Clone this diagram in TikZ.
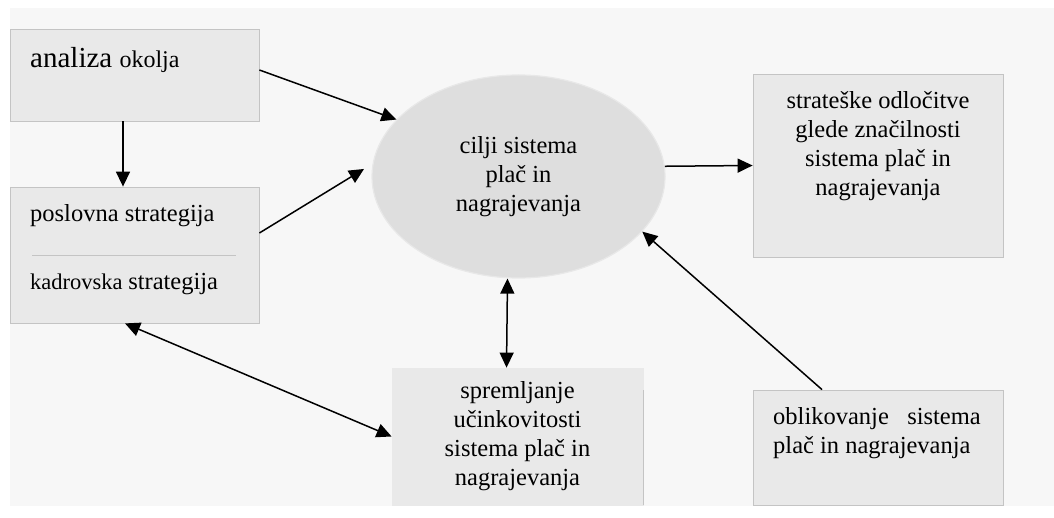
\documentclass[tikz,border=0pt]{standalone}
\usepackage{fontspec}
\setmainfont{Liberation Serif}
\usetikzlibrary{arrows.meta,shapes.geometric}
\definecolor{bgc}{HTML}{F7F7F7}
\definecolor{boxfill}{HTML}{E9E9E9}
\definecolor{boxline}{HTML}{C4C4C4}
\definecolor{ellfill}{HTML}{DEDEDE}
\definecolor{ellline}{HTML}{E8E8E8}
\begin{document}
\begin{tikzpicture}[x=1pt,y=-1pt,
  box/.style={draw=boxline,fill=boxfill,line width=0.8pt,rectangle,inner sep=0pt},
  txt/.style={font=\fontsize{24.5}{29}\selectfont,inner sep=0pt,text=black},
  arr/.style={line width=1.5pt,-{Triangle[length=15pt,width=14pt]}},
  darr/.style={line width=1.5pt,{Triangle[length=15pt,width=14pt]}-{Triangle[length=15pt,width=14pt]}}]
\useasboundingbox (0,0) rectangle (1054,518);
\fill[bgc] (10,8) rectangle (1054,506);
% boxes
\node[box,minimum width=249pt,minimum height=92pt] (A) at (134.5,75) {};
\node[box,minimum width=249pt,minimum height=136pt] (B) at (134.5,255) {};
\node[ellipse,fill=ellfill,draw=ellline,line width=1.2pt,minimum width=293pt,minimum height=203pt,
      inner sep=0pt,font=\fontsize{24.5}{29}\selectfont,align=center] (E) at (518.5,176.5)
      {cilji sistema\\plač in\\nagrajevanja};
\node[box,minimum width=250pt,minimum height=183pt] (C) at (878,165.5) {};
\node[box,draw=boxfill,minimum width=251pt,minimum height=137pt,txt,align=center] (D) at (517.5,436.5)
      {spremljanje\\učinkovitosti\\sistema plač in\\nagrajevanja};
\draw[boxline,line width=0.8pt] (643,390) -- (643,505);
\node[box,minimum width=250pt,minimum height=115pt] (F) at (878,447.5) {};
% texts
\node[anchor=base west,inner sep=0pt] (At) at (30,68)
      {\fontsize{29}{34}\selectfont analiza \fontsize{24}{29}\selectfont okolja};
\node[txt,anchor=base west] (B1) at (30,222) {poslovna strategija};
\draw[boxline,line width=0.6pt] (32,255) -- (236,255);
\node[txt,anchor=base west] (B2) at (30,290)
      {\fontsize{22.5}{27}\selectfont kadrovska \fontsize{24.5}{29}\selectfont strategija};
\node[txt,align=center,anchor=north] (Ct) at (878,91)
      {strateške odločitve\\glede značilnosti\\sistema plač in\\nagrajevanja};
\node[txt,align=left,anchor=north west] (Ft) at (773,407)
      {oblikovanje\ \ \ sistema\\plač in nagrajevanja};
% connectors
\draw[arr] ([xshift=-11.5pt]A.south) -- ([xshift=-11.5pt]B.north);
\draw[arr] ([yshift=5pt]A.east) -- (E.155.8);
\draw[arr,shorten >=10pt] ([yshift=22pt]B.east) -- (E.175.5);
\draw[arr] (E.4.1) -- (C.west);
\draw[darr] ([xshift=-11pt]E.south) -- ([xshift=-11pt]D.north);
\draw[darr] ([xshift=-9.5pt]B.south) -- (D.west);
\draw[arr] ([xshift=-56pt]F.north) -- (E.-24.8);
\end{tikzpicture}
\end{document}
